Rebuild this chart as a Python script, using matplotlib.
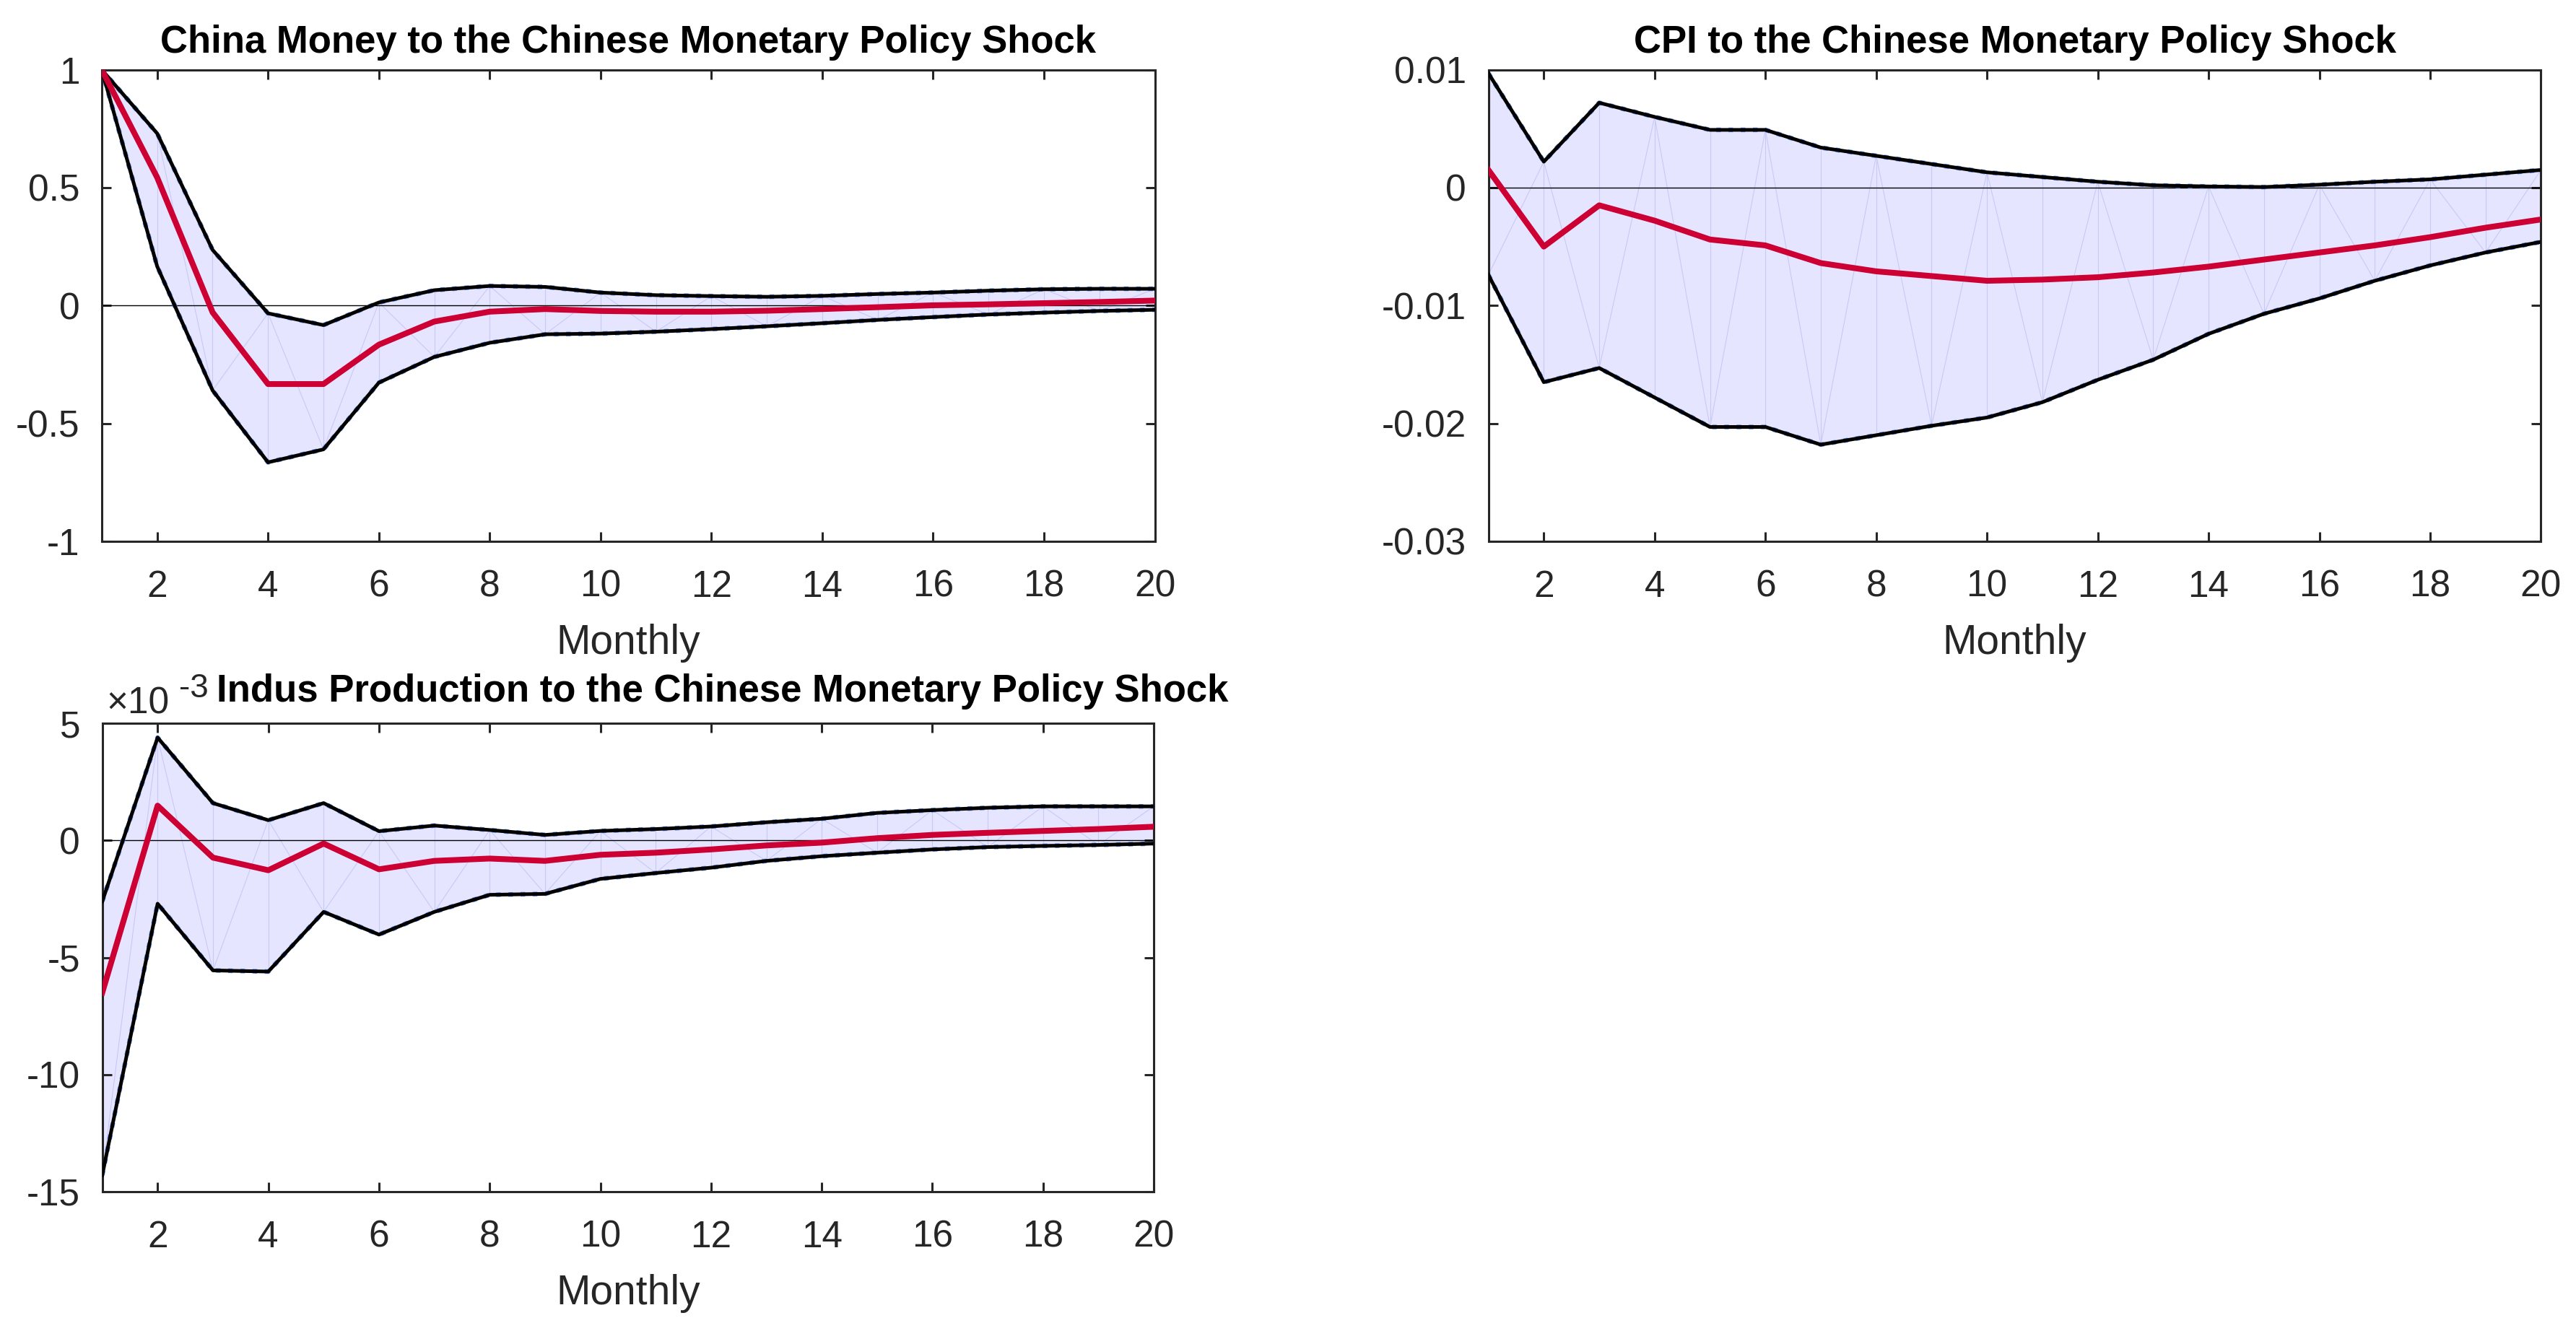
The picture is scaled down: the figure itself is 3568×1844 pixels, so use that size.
import numpy as np
import matplotlib
matplotlib.use("Agg")
import matplotlib.pyplot as plt
from matplotlib.ticker import FormatStrFormatter, ScalarFormatter

plt.rcParams["font.family"] = ["Liberation Sans", "DejaVu Sans"]
plt.rcParams["mathtext.fontset"] = "custom"
plt.rcParams["mathtext.rm"] = "Liberation Sans"
plt.rcParams["axes.unicode_minus"] = False

months = np.arange(1, 21)

# China money response
money_upper = [1.0, 0.73, 0.236, -0.033, -0.083, 0.013, 0.065, 0.083, 0.079, 0.055,
               0.044, 0.040, 0.037, 0.041, 0.049, 0.055, 0.063, 0.069, 0.071, 0.071]
money_med = [1.0, 0.543, -0.029, -0.333, -0.333, -0.166, -0.068, -0.026, -0.015, -0.023,
             -0.026, -0.026, -0.022, -0.015, -0.007, 0.001, 0.005, 0.010, 0.015, 0.021]
money_lower = [1.0, 0.166, -0.36, -0.665, -0.61, -0.327, -0.218, -0.158, -0.122, -0.119,
               -0.111, -0.100, -0.088, -0.075, -0.061, -0.049, -0.038, -0.030, -0.023, -0.018]

# CPI response
cpi_upper = [0.0097, 0.0022, 0.0072, 0.0060, 0.0049, 0.0049, 0.0034, 0.0027, 0.0020, 0.0013,
             0.0009, 0.0005, 0.0002, 0.0001, 0.00005, 0.00025, 0.0005, 0.0007, 0.0011, 0.0015]
cpi_med = [0.0015, -0.0050, -0.0015, -0.0028, -0.0044, -0.0049, -0.0064, -0.0071, -0.0075, -0.0079,
           -0.0078, -0.0076, -0.0072, -0.0067, -0.0061, -0.0055, -0.0049, -0.0042, -0.0034, -0.0027]
cpi_lower = [-0.0074, -0.0165, -0.0153, -0.0178, -0.0203, -0.0203, -0.0218, -0.0210, -0.0202, -0.0195,
             -0.0182, -0.0163, -0.0146, -0.0124, -0.0107, -0.0094, -0.0079, -0.0066, -0.0055, -0.0046]

# Industrial production response (x 1e-3)
ip_upper = np.array([-2.6, 4.4, 1.6, 0.87, 1.6, 0.4, 0.64, 0.45, 0.24, 0.41,
                     0.49, 0.6, 0.78, 0.93, 1.18, 1.3, 1.4, 1.46, 1.46, 1.46]) * 1e-3
ip_med = np.array([-6.5, 1.49, -0.73, -1.27, -0.13, -1.23, -0.87, -0.77, -0.87, -0.61,
                   -0.52, -0.38, -0.21, -0.09, 0.10, 0.24, 0.33, 0.41, 0.49, 0.59]) * 1e-3
ip_lower = np.array([-14.3, -2.7, -5.55, -5.6, -3.05, -4.02, -3.05, -2.32, -2.28, -1.64,
                     -1.39, -1.16, -0.87, -0.67, -0.52, -0.38, -0.28, -0.23, -0.19, -0.13]) * 1e-3

FILL = "#e5e5ff"
MESH = "#c9c9f5"
RED = "#cc0033"
AX = "#262626"


def irf_panel(ax, lower, med, upper, title, ylim, yticks, title_y, title_x=0.5, ha="center"):
    lower = np.asarray(lower)
    upper = np.asarray(upper)
    ax.fill_between(months, lower, upper, color=FILL, lw=0, zorder=1)
    # faint patch mesh lines
    for i in range(len(months)):
        ax.plot([months[i], months[i]], [lower[i], upper[i]], color=MESH, lw=0.8, zorder=1.5)
        if i + 1 < len(months):
            if i % 2 == 0:
                ax.plot([months[i], months[i + 1]], [lower[i], upper[i + 1]], color=MESH, lw=0.8, zorder=1.5)
            else:
                ax.plot([months[i], months[i + 1]], [upper[i], lower[i + 1]], color=MESH, lw=0.8, zorder=1.5)
    ax.axhline(0, color="black", lw=1.0, zorder=2)
    ax.plot(months, upper, color="#5b8def", lw=4.6, ls=":", zorder=2.5)
    ax.plot(months, lower, color="#5b8def", lw=4.6, ls=":", zorder=2.5)
    ax.plot(months, upper, color="black", lw=3.6, zorder=3)
    ax.plot(months, lower, color="black", lw=3.6, zorder=3)
    ax.plot(months, med, color=RED, lw=5.8, zorder=4)
    ax.set_xlim(1, 20)
    ax.set_ylim(*ylim)
    ax.set_xticks(np.arange(2, 21, 2))
    ax.set_yticks(yticks)
    ax.tick_params(direction="in", top=True, right=True, length=9.5, width=2.2,
                   color=AX, labelcolor=AX, labelsize=37)
    ax.tick_params(axis="x", pad=28)
    ax.tick_params(axis="y", pad=22)
    for s in ax.spines.values():
        s.set_color(AX)
        s.set_linewidth(2.2)
    ax.set_xlabel("Monthly", fontsize=41, color=AX, labelpad=19)
    ax.text(title_x, title_y, title, transform=ax.transAxes, ha=ha, va="baseline",
            fontsize=38, fontweight="bold", color="black")


fig = plt.figure(figsize=(35.68, 18.44), dpi=100)
ax1 = fig.add_axes([0.0395, 0.5933, 0.4088, 0.3543])
ax2 = fig.add_axes([0.5778, 0.5933, 0.4086, 0.3543])
ax3 = fig.add_axes([0.0397, 0.1048, 0.4082, 0.3516])

irf_panel(ax1, money_lower, money_med, money_upper,
          "China Money to the Chinese Monetary Policy Shock",
          (-1, 1), [-1, -0.5, 0, 0.5, 1], 1.0367)
ax1.yaxis.set_major_formatter(FormatStrFormatter("%g"))

irf_panel(ax2, cpi_lower, cpi_med, cpi_upper,
          "CPI to the Chinese Monetary Policy Shock",
          (-0.03, 0.01), [-0.03, -0.02, -0.01, 0, 0.01], 1.0367)
ax2.yaxis.set_major_formatter(FormatStrFormatter("%g"))

irf_panel(ax3, ip_lower, ip_med, ip_upper,
          "Indus Production to the Chinese Monetary Policy Shock",
          (-0.015, 0.005), [-0.015, -0.01, -0.005, 0, 0.005], 1.0463,
          title_x=0.1087, ha="left")
fmt = ScalarFormatter()
fmt.set_powerlimits((-3, -3))
ax3.yaxis.set_major_formatter(fmt)
ax3.yaxis.get_offset_text().set_visible(False)
# MATLAB-style exponent label
ax3.text(0.0043, 1.0211, "\u00d710", transform=ax3.transAxes, ha="left", va="baseline",
         fontsize=37, color=AX)
ax3.text(0.073, 1.0566, "-3", transform=ax3.transAxes, ha="left", va="baseline",
         fontsize=33, color=AX)

fig.savefig("out.png", dpi=100, facecolor="white")
